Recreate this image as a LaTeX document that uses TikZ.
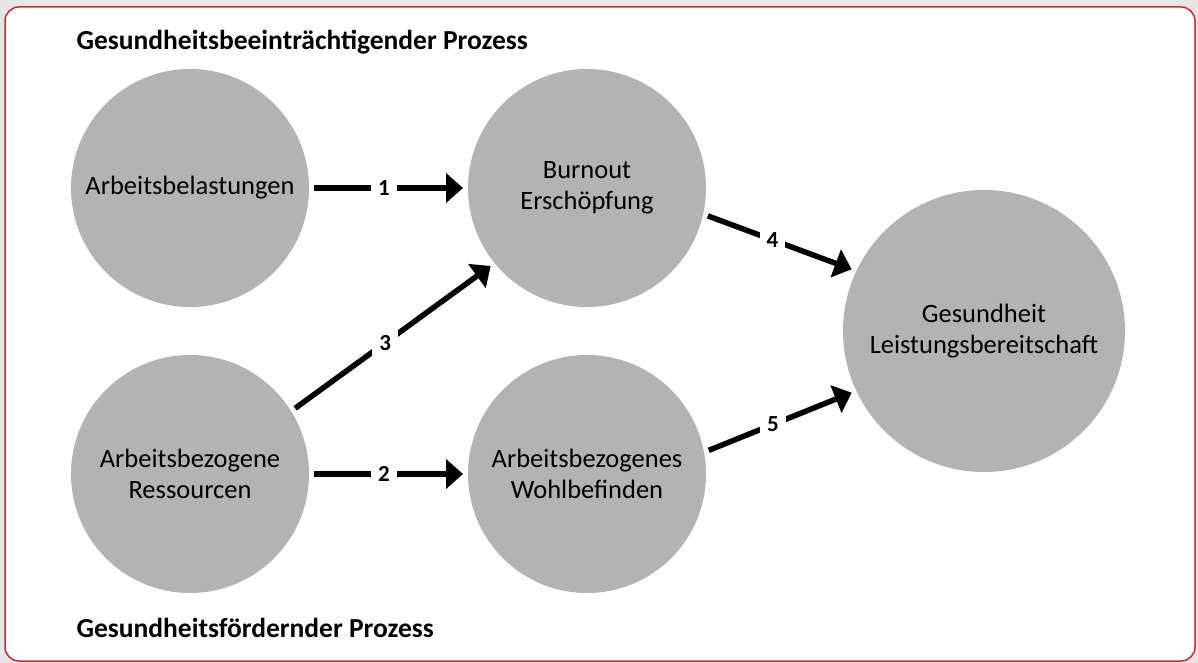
\documentclass[tikz,border=0pt]{standalone}
\usepackage{fontspec}
\setmainfont{Carlito}
\usetikzlibrary{arrows.meta}
\definecolor{bggray}{HTML}{E6E6E6}
\definecolor{framered}{HTML}{E2232B}
\definecolor{circgray}{HTML}{B3B3B3}

\begin{document}
\begin{tikzpicture}[
      x=1pt,y=-1pt,
      >={Triangle[length=17pt,width=29pt]},
      every node/.style={font=\fontsize{26.5}{31}\selectfont},
      state/.style={circle,fill=circgray,minimum size=238pt,inner sep=0pt,outer sep=5pt,align=center},
      big/.style={state,minimum size=282pt},
      flow/.style={draw=black,line width=5.5pt,->},
      num/.style={fill=white,inner sep=7pt,font=\fontsize{23}{23}\selectfont\bfseries},
      title/.style={anchor=base west,font=\fontsize{27.5}{30}\selectfont\bfseries}
    ]
    % frame
    \fill[bggray] (0,0) rectangle (1198,663);
    \draw[framered,line width=1.5pt,fill=white,rounded corners=14pt] (5,7) rectangle (1195,661);
    % states
    \node[state] (belast) at (190,188) {Arbeitsbelastungen};
    \node[state] (burn) at (587,188) {Burnout\\Ersch\"opfung};
    \node[state] (ress) at (190,474) {Arbeitsbezogene\\Ressourcen};
    \node[state] (wohl) at (587,474) {Arbeitsbezogenes\\Wohlbefinden};
    \node[big] (gesund) at (984,331) {Gesundheit\\Leistungsbereitschaft};
    % process captions
    \node[title] (top) at (73,50) {Gesundheitsbeeintr\"achtigender Prozess};
    \node[title] (bot) at (73,637) {Gesundheitsf\"ordernder Prozess};
    % paths
    \draw[flow] (belast) -- node[num,pos=0.47] {1} (burn);
    \draw[flow] (ress) -- node[num,pos=0.47] {2} (wohl);
    \draw[flow] (ress.32) -- node[num,pos=0.46] {3} (burn.219);
    \draw[flow] (burn.-13) -- node[num,pos=0.45] {4} (gesund.155);
    \draw[flow] (wohl.11) -- node[num,pos=0.45] {5} (gesund.205);
  \end{tikzpicture}
\end{document}
